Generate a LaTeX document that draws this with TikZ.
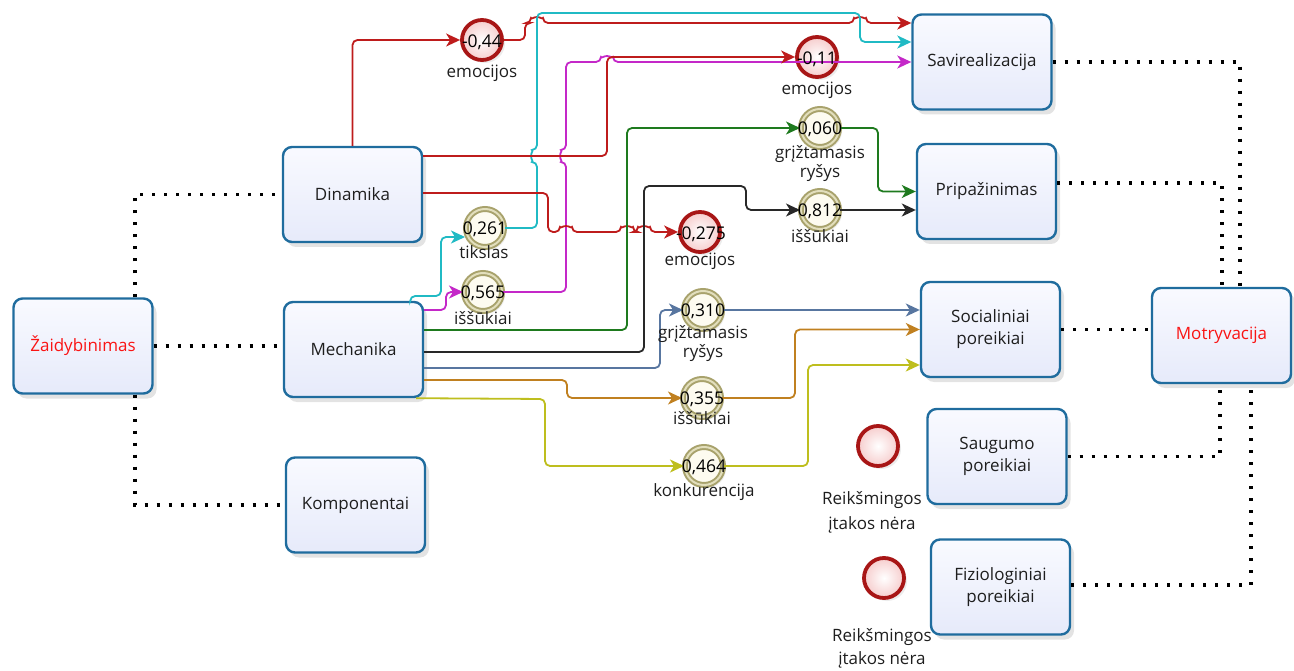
\documentclass[tikz,border=0pt]{standalone}
\usepackage{fontspec}
\setmainfont{Open Sans}
\usetikzlibrary{arrows.meta,shadows}
\definecolor{boxline}{RGB}{31,108,158}
\definecolor{boxtop}{RGB}{249,250,255}
\definecolor{boxbot}{RGB}{230,234,250}
\definecolor{evred}{RGB}{168,22,22}
\definecolor{evfill}{RGB}{246,205,205}
\definecolor{ring}{RGB}{168,162,108}
\definecolor{ringin}{RGB}{226,222,188}
\definecolor{ringfill}{RGB}{253,251,240}
\definecolor{cred}{RGB}{190,28,28}
\definecolor{ccyan}{RGB}{32,186,196}
\definecolor{cmag}{RGB}{196,40,200}
\definecolor{cgreen}{RGB}{30,122,30}
\definecolor{cblack}{RGB}{40,40,40}
\definecolor{cblue}{RGB}{88,118,160}
\definecolor{corange}{RGB}{192,128,32}
\definecolor{cyellow}{RGB}{190,190,30}
\definecolor{txt}{RGB}{30,30,30}
\definecolor{hot}{RGB}{250,20,20}
\begin{document}
\begin{tikzpicture}[x=1pt,y=-1pt,
  box/.style={draw=boxline,line width=2.4pt,rounded corners=9pt,top color=boxtop,bottom color=boxbot,
    minimum width=139pt,minimum height=95pt,align=center,text=txt,
    font=\fontsize{17}{22}\selectfont,
    drop shadow={opacity=0.22,shadow xshift=4pt,shadow yshift=-5pt}},
  redev/.style={circle,draw=evred,line width=3.8pt,inner color=white,outer color=evfill,
    minimum size=40pt,inner sep=0pt,
    drop shadow={opacity=0.15,shadow xshift=3pt,shadow yshift=-3pt}},
  ringev/.style={circle,draw=ring,line width=2pt,double=ringin,double distance=2pt,fill=ringfill,
    minimum size=38pt,inner sep=0pt,
    drop shadow={opacity=0.12,shadow xshift=3pt,shadow yshift=-3pt}},
  num/.style={text=black,font=\fontsize{17.5}{17.5}\selectfont,inner sep=0pt},
  lbl/.style={text=txt,font=\fontsize{17}{19}\selectfont,align=center,inner sep=0pt},
  flow/.style={line width=1.8pt,rounded corners=5pt,-{Stealth[length=14pt,width=13pt,inset=4pt]}},
  assoc/.style={line width=3.2pt,dash pattern=on 3.2pt off 8.8pt,black},
]
\useasboundingbox (0,0) rectangle (1294,671);

% task boxes
\node[box,text=hot] (zai) at (83,346) {Žaidybinimas};
\node[box] (din) at (352.5,194.5) {Dinamika};
\node[box] (mec) at (353.5,349.5) {Mechanika};
\node[box] (kom) at (355.5,505) {Komponentai};
\node[box] (sav) at (982,62) {Savirealizacija};
\node[box] (pri) at (986.5,191.5) {Pripažinimas};
\node[box] (soc) at (990.5,329.5) {Socialiniai\\poreikiai};
\node[box] (sau) at (997,456.5) {Saugumo\\poreikiai};
\node[box] (fiz) at (1000.5,587) {Fiziologiniai\\poreikiai};
\node[box,text=hot] (mot) at (1221.5,335.5) {Motryvacija};

% events
\node[redev]  (e1)  at (482,40)  {};
\node[redev]  (e2)  at (817,57)  {};
\node[ringev] (e3)  at (820,128) {};
\node[ringev] (e4)  at (820,210) {};
\node[ringev] (e5)  at (485,228) {};
\node[ringev] (e6)  at (483,292) {};
\node[redev]  (e7)  at (700,232) {};
\node[ringev] (e8)  at (703,310) {};
\node[ringev] (e9)  at (702,398) {};
\node[ringev] (e10) at (704,466) {};
\node[redev]  (e11) at (878,446) {};
\node[redev]  (e12) at (884,578) {};

% associations
\draw[assoc] ([xshift=52pt]zai.north) |- (din.west);
\draw[assoc] (zai.east) -- (zai.east -| mec.west);
\draw[assoc] ([xshift=52pt]zai.south) |- (kom.west);
\draw[assoc] (sav.east) -| ([xshift=18.5pt]mot.north);
\draw[assoc] ([yshift=8.5pt]pri.east) -| ([xshift=0.5pt]mot.north);
\draw[assoc] (soc.east) -- (soc.east -| mot.west);
\draw[assoc] (sau.east) -| ([xshift=-1.5pt]mot.south);
\draw[assoc] ([yshift=2pt]fiz.east) -| ([xshift=29.5pt]mot.south);

% sequence flows
\draw[flow,cred] (din.north) |- (e1.west);
\draw[flow,cred] (e1.east) -- (525,40) -- (525,23) -- (531,23)
  arc[start angle=180,end angle=360,radius=6] -- (854,23)
  arc[start angle=180,end angle=360,radius=6] -- ([yshift=39pt]sav.west);
\draw[flow,ccyan] ([xshift=-14pt]mec.north east) |- (441,296) -- (441,237) -- ([yshift=-9pt]e5.west);
\draw[flow,ccyan] (e5.east) -- (537,228) -- (537,162)
  arc[start angle=90,end angle=270,radius=6] -- (537,13) -- (860,13) -- (860,42) -- ([yshift=20pt]sav.west);
\draw[flow,cmag] ([yshift=39.5pt]mec.east) -- (446,310) -- (446,292) -- (e6.west);
\draw[flow,cmag] (e6.east) -- (566,292) -- (566,162)
  arc[start angle=90,end angle=270,radius=6] -- (566,62) -- (601,62)
  arc[start angle=180,end angle=360,radius=6] -- (sav.west);
\draw[flow,cred] ([yshift=38.5pt]din.east) -- (607,156) -- (607,57) -- (e2.west);
\draw[flow,cred] ([yshift=1.5pt]din.east) -- (548,193) -- (548,232) -- (560,232)
  arc[start angle=180,end angle=360,radius=6] -- (621,232)
  arc[start angle=180,end angle=360,radius=6] -- (638,232)
  arc[start angle=180,end angle=360,radius=6] -- (e7.west);
\draw[flow,cgreen] ([yshift=19.5pt]mec.east) -- (627,330) -- (627,128) -- (e3.west);
\draw[flow,cgreen] (e3.east) -- (878,128) -- (878,191.5) -- (pri.west);
\draw[flow,cblack] ([yshift=-2.5pt]mec.east) -- (644,352) -- (644,186) -- (746,186) -- (746,210) -- (e4.west);
\draw[flow,cblack] (e4.east) -- (e4.east -| pri.west);
\draw[flow,cblue] ([yshift=-18.5pt]mec.east) -- (660,368) -- (660,310) -- (e8.west);
\draw[flow,cblue] (e8.east) -- (e8.east -| soc.west);
\draw[flow,corange] ([yshift=-30.5pt]mec.east) -- (567,380) -- (567,398) -- (e9.west);
\draw[flow,corange] (e9.east) -- (795,398) -- (795,329.5) -- (soc.west);
\draw[flow,cyellow] ([xshift=-8pt]mec.south east) -- (545,399) -- (545,466) -- (e10.west);
\draw[flow,cyellow] (e10.east) -- (808,466) -- (808,365) -- ([yshift=-35.5pt]soc.west);

% event values
\node[num] (n1)  at (482,42)  {-0,44};
\node[num] (n2)  at (817,59)  {-0,11};
\node[num] (n3)  at (820,129) {0,060};
\node[num] (n4)  at (820,211) {0,812};
\node[num] (n5)  at (485,229) {0,261};
\node[num] (n6)  at (483,293) {0,565};
\node[num] (n7)  at (701,234) {-0,275};
\node[num] (n8)  at (703,311) {0,310};
\node[num] (n9)  at (702,399) {0,355};
\node[num] (n10) at (704,467) {0,464};

% event labels
\node[lbl] (l1)  at (482,73)  {emocijos};
\node[lbl] (l2)  at (817,90)  {emocijos};
\node[lbl] (l3)  at (820,164) {grįžtamasis\\ryšys};
\node[lbl] (l4)  at (820,236) {iššūkiai};
\node[lbl] (l5)  at (484,252) {tikslas};
\node[lbl] (l6)  at (483,318) {iššūkiai};
\node[lbl] (l7)  at (700,261) {emocijos};
\node[lbl] (l8)  at (703,344) {grįžtamasis\\ryšys};
\node[lbl] (l9)  at (702,418) {iššūkiai};
\node[lbl] (l10) at (704,492) {konkurencija};
\node[lbl,font=\fontsize{17}{25}\selectfont] (l11) at (872,512) {Reikšmingos\\įtakos nėra};
\node[lbl,font=\fontsize{17}{23}\selectfont] (l12) at (882,648) {Reikšmingos\\įtakos nėra};
\end{tikzpicture}
\end{document}
